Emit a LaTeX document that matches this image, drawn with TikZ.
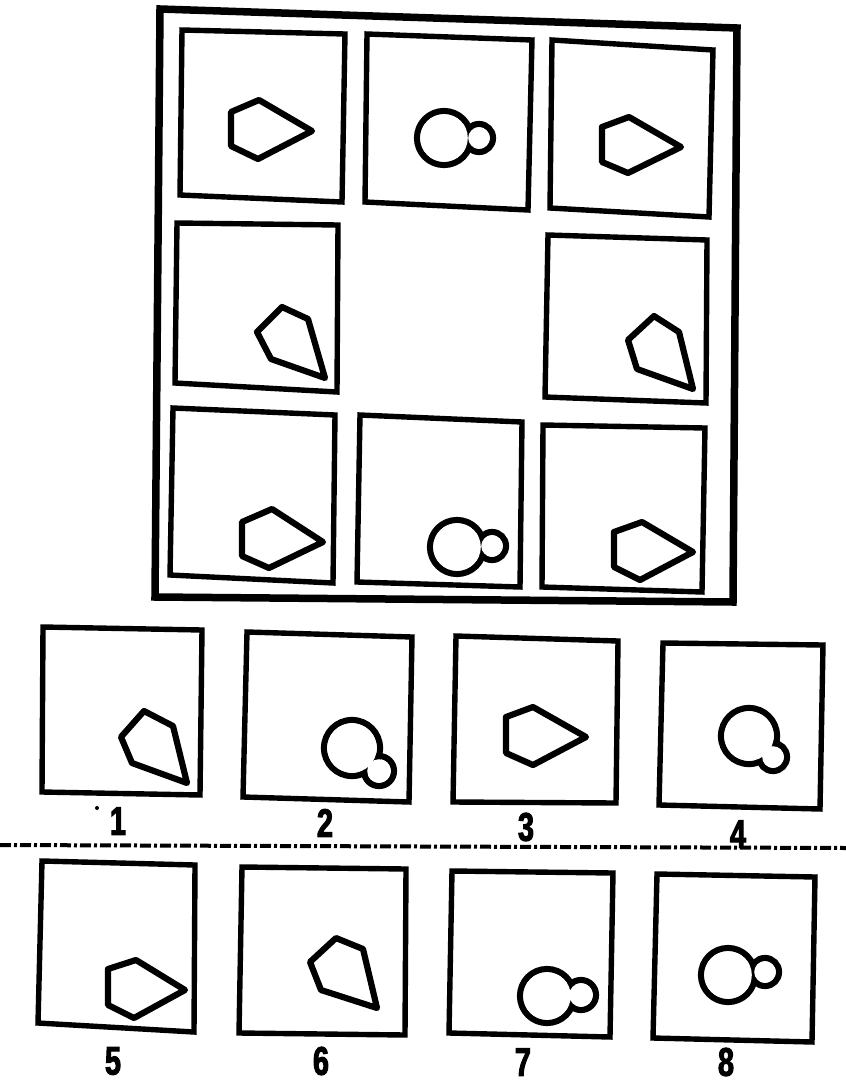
\documentclass[tikz,border=0pt]{standalone}
\usepackage{fontspec}
\setmainfont{Liberation Sans}
\newfontfamily\digfont[FakeStretch=0.72,FakeBold=2.5]{Liberation Sans}
\newcommand\twocirc[6]{%
  \draw[fig] (#1,#2) circle[radius=#3pt];
  \draw[fig] (#4,#5) circle[radius=#6pt];
  \fill[white] (#1,#2) circle[radius=#3pt-3.2pt];
  \fill[white] (#4,#5) circle[radius=#6pt-3.2pt];}
\newcommand\lbl[1]{{\digfont\bfseries\fontsize{40}{40}\selectfont #1}}
\begin{document}
\begin{tikzpicture}[x=1pt,y=-1pt,
  outerframe/.style={line width=7.5pt,line join=miter},
  cellbox/.style={line width=5.4pt,line join=miter},
  fig/.style={line width=6.2pt,line join=round},
  lab/.style={inner sep=0pt,anchor=center},
  sepline/.style={line width=4pt,dash pattern=on 11pt off 3pt on 3pt off 3pt}]
\useasboundingbox[fill=white] (0,0) rectangle (846,1082);

% outer frame of the matrix
\draw[outerframe] (160,9) -- (737,28) -- (733,602) -- (155,597) -- cycle;

% ---- row 1
\draw[cellbox] (182,30) -- (345,34) -- (342,202) -- (180,195) -- cycle;
\draw[fig] (259,100) -- (312,131) -- (258,159) -- (231,146) -- (231,112) -- cycle;

\draw[cellbox] (367,34) -- (532,40) -- (528,210) -- (365,202) -- cycle;
\twocirc{444}{138}{27}{479}{138}{14}

\draw[cellbox] (552,40) -- (713,50) -- (709,217) -- (550,208) -- cycle;
\draw[fig] (629,117) -- (681,147) -- (628,173) -- (602,162) -- (602,127) -- cycle;

% ---- row 2
\draw[cellbox] (177,223) -- (338,225) -- (337,392) -- (175,383) -- cycle;
\draw[fig] (282,307) -- (308,319) -- (325,378) -- (271,359) -- (257,332) -- cycle;

\draw[cellbox] (548,235) -- (707,240) -- (706,403) -- (545,397) -- cycle;
\draw[fig] (654,316) -- (679,332) -- (693,389) -- (637,369) -- (628,340) -- cycle;

% ---- row 3
\draw[cellbox] (173,408) -- (335,415) -- (333,583) -- (170,575) -- cycle;
\draw[fig] (272,509) -- (323,542) -- (269,568) -- (242,556) -- (242,522) -- cycle;

\draw[cellbox] (360,415) -- (522,422) -- (520,587) -- (357,582) -- cycle;
\twocirc{457}{547}{27}{492}{546}{14}

\draw[cellbox] (543,425) -- (705,428) -- (702,592) -- (542,587) -- cycle;
\draw[fig] (642,522) -- (693,552) -- (640,580) -- (614,567) -- (614,532) -- cycle;

% ---- answers, top row
\draw[cellbox] (43,627) -- (202,630) -- (200,795) -- (42,792) -- cycle;
\draw[fig] (144,711) -- (173,726) -- (187,783) -- (132,763) -- (121,737) -- cycle;
\fill (97,808) circle[radius=2pt];
\node[lab] (l1) at (118,821) {\lbl{1}};

\draw[cellbox] (247,632) -- (412,637) -- (409,802) -- (243,797) -- cycle;
\twocirc{352}{748}{28}{379}{771}{15}
\node[lab] (l2) at (325,823) {\lbl{2}};

\draw[cellbox] (456,636) -- (618,641) -- (616,803) -- (453,802) -- cycle;
\draw[fig] (533,707) -- (586,737) -- (533,765) -- (506,753) -- (506,717) -- cycle;
\node[lab] (l3) at (526,827) {\lbl{3}};

\draw[cellbox] (663,643) -- (823,645) -- (820,809) -- (659,805) -- cycle;
\twocirc{749}{736}{28}{773}{757}{14}
\node[lab] (l4) at (738,834) {\lbl{4}};

% separator
\coordinate (s1) at (0,845);
\coordinate (s2) at (846,848);
\draw[sepline] (s1) -- (s2);

% ---- answers, bottom row
\draw[cellbox] (42,861) -- (195,865) -- (194,1032) -- (38,1023) -- cycle;
\draw[fig] (136,960) -- (185,990) -- (134,1018) -- (108,1005) -- (108,969) -- cycle;
\node[lab] (l5) at (113,1061) {\lbl{5}};

\draw[cellbox] (242,867) -- (406,869) -- (405,1035) -- (239,1033) -- cycle;
\draw[fig] (336,938) -- (363,949) -- (377,1008) -- (321,990) -- (310,962) -- cycle;
\node[lab] (l6) at (321,1061) {\lbl{6}};

\draw[cellbox] (452,871) -- (613,873) -- (610,1037) -- (449,1033) -- cycle;
\twocirc{547}{996}{27}{581}{995}{15}
\node[lab] (l7) at (523,1062) {\lbl{7}};

\draw[cellbox] (657,874) -- (815,877) -- (812,1042) -- (653,1038) -- cycle;
\twocirc{728}{975}{27}{765}{972}{14}
\node[lab] (l8) at (726,1062) {\lbl{8}};
\end{tikzpicture}
\end{document}
